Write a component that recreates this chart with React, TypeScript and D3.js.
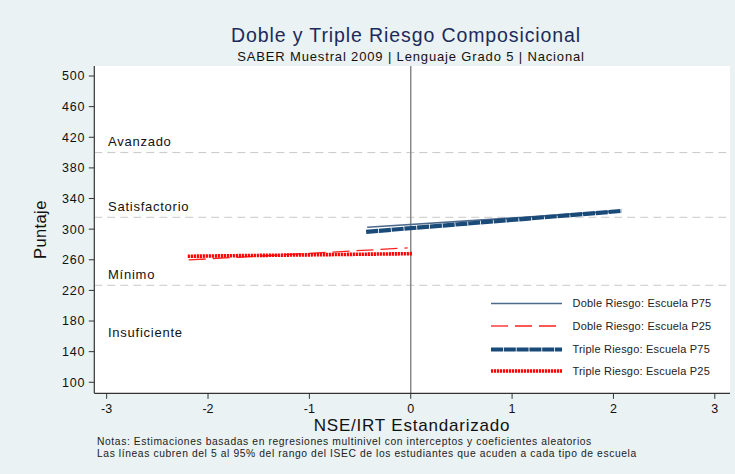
import React from "react";
import * as d3 from "d3";

const W = 735;
const H = 474;

const yTicks = [100, 140, 180, 220, 260, 300, 340, 380, 420, 460, 500];
const xTicks = [-3, -2, -1, 0, 1, 2, 3];

const levelNames = ["Avanzado", "Satisfactorio", "Mínimo", "Insuficiente"];
const levelLabelY = [414, 330, 241, 165];
const cutScores = [400, 315.5, 226.7];

const seriesNames = [
  "Doble Riesgo: Escuela P75",
  "Doble Riesgo: Escuela P25",
  "Triple Riesgo: Escuela P75",
  "Triple Riesgo: Escuela P25",
];
const seriesX = [
  [-0.43, 2.05],
  [-2.19, -0.03],
  [-0.44, 2.08],
  [-2.2, 0.02],
];
const seriesY = [
  [302.5, 323.5],
  [259.8, 275.5],
  [296.5, 323.8],
  [264.6, 268.0],
];

const styles = [
  { color: "#4d6a8c", width: 1.6, dash: "none" },
  { color: "#ff2020", width: 1.3, dash: "17,7" },
  { color: "#1a4a78", width: 4.2, dash: "12,0.8" },
  { color: "#ff0000", width: 3.6, dash: "2.2,0.8" },
];

const FONT = "'Liberation Sans', Arial, sans-serif";

export default function App() {
  const left = 94.3;
  const right = 730;
  const top = 66;
  const bottom = 393.3;

  const x = d3.scaleLinear().domain([-3.122, 3.15]).range([left, right]);
  const y = d3.scaleLinear().domain([85.6, 513.1]).range([bottom, top]);
  const line = d3
    .line<[number, number]>()
    .x((d) => x(d[0]))
    .y((d) => y(d[1]));

  const legendX0 = 491;
  const legendX1 = 562;
  const legendRows = [303.5, 326, 349.5, 371];

  return (
    <svg
      width={W}
      height={H}
      style={{ position: "absolute", left: 0, top: 0, fontFamily: FONT }}
    >
      <rect x={0} y={0} width={W} height={H} fill="#eaf2f3" />
      <rect x={left} y={top} width={right - left} height={bottom - top} fill="#ffffff" />

      {/* title */}
      <text x={406} y={42} textAnchor="middle" fontSize={19.5} letterSpacing={0.9} fill="#1c2a5c">
        Doble y Triple Riesgo Composicional
      </text>
      <text x={411} y={61} textAnchor="middle" fontSize={13} letterSpacing={0.85} fill="#111">
        SABER Muestral 2009 | Lenguaje Grado 5 | Nacional
      </text>

      {/* cut score lines */}
      {cutScores.map((c, i) => (
        <line
          key={i}
          x1={left}
          x2={right}
          y1={y(c)}
          y2={y(c)}
          stroke="#c9c9c9"
          strokeWidth={1}
          strokeDasharray="8,5"
        />
      ))}
      {levelNames.map((n, i) => (
        <text
          key={n}
          x={108}
          y={y(levelLabelY[i])}
          dy="0.35em"
          fontSize={13}
          letterSpacing={0.75}
          fill="#111"
        >
          {n}
        </text>
      ))}

      {/* zero line */}
      <line x1={x(0)} x2={x(0)} y1={top} y2={bottom} stroke="#8a8a8a" strokeWidth={1.5} />

      {/* series */}
      {seriesNames.map((n, i) => {
        const pts: [number, number][] = seriesX[i].map((v, j) => [v, seriesY[i][j]]);
        return (
          <path
            key={n}
            d={line(pts) || ""}
            fill="none"
            stroke={styles[i].color}
            strokeWidth={styles[i].width}
            strokeDasharray={styles[i].dash}
            strokeLinecap="butt"
          />
        );
      })}

      {/* legend */}
      {seriesNames.map((n, i) => (
        <g key={n}>
          <line
            x1={legendX0}
            x2={legendX1}
            y1={legendRows[i]}
            y2={legendRows[i]}
            stroke={styles[i].color}
            strokeWidth={styles[i].width}
            strokeDasharray={styles[i].dash}
          />
          <text x={572.5} y={legendRows[i]} dy="0.35em" fontSize={11} letterSpacing={0.2} fill="#222">
            {n}
          </text>
        </g>
      ))}

      {/* axes */}
      <line x1={left} x2={left} y1={top} y2={bottom} stroke="#333" strokeWidth={1.2} />
      <line x1={left} x2={right} y1={bottom} y2={bottom} stroke="#333" strokeWidth={1.2} />
      {yTicks.map((t) => (
        <g key={t}>
          <line x1={left - 5.5} x2={left} y1={y(t)} y2={y(t)} stroke="#333" strokeWidth={1} />
          <text x={left - 9} y={y(t)} dy="0.35em" textAnchor="end" fontSize={12.5} letterSpacing={0.8} fill="#111">
            {t}
          </text>
        </g>
      ))}
      {xTicks.map((t) => (
        <g key={t}>
          <line x1={x(t)} x2={x(t)} y1={bottom} y2={bottom + 5.5} stroke="#333" strokeWidth={1} />
          <text x={x(t)} y={413} textAnchor="middle" fontSize={12.5} fill="#111">
            {t}
          </text>
        </g>
      ))}

      <text
        transform={`translate(46,${(top + bottom) / 2}) rotate(-90)`}
        textAnchor="middle"
        fontSize={16.5}
        letterSpacing={0.4}
        fill="#111"
      >
        Puntaje
      </text>
      <text x={412} y={431} textAnchor="middle" fontSize={17} letterSpacing={0.8} fill="#111">
        NSE/IRT Estandarizado
      </text>

      <text x={97} y={445} fontSize={10.3} letterSpacing={0.6} fill="#222">
        Notas: Estimaciones basadas en regresiones multinivel con interceptos y coeficientes aleatorios
      </text>
      <text x={97} y={457} fontSize={10.3} letterSpacing={0.6} fill="#222">
        Las líneas cubren del 5 al 95% del rango del ISEC de los estudiantes que acuden a cada tipo de escuela
      </text>
    </svg>
  );
}
